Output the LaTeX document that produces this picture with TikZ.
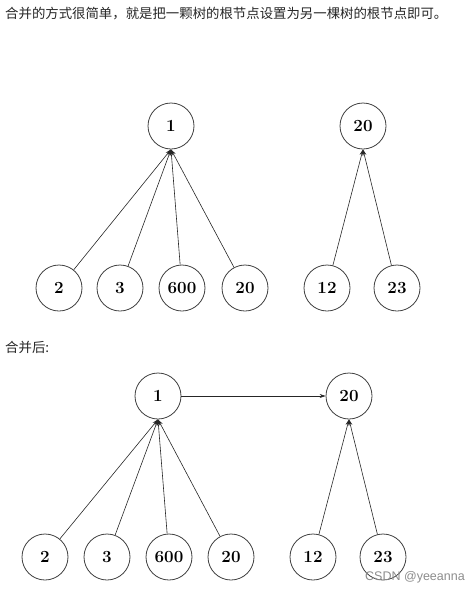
\documentclass[tikz,border=0pt]{standalone}
\usepackage{fontspec}
\newfontfamily\cjk{Noto Sans CJK SC}
\newfontfamily\wm{Liberation Sans}
\usetikzlibrary{arrows.meta}
\begin{document}
\begin{tikzpicture}[x=1pt,y=-1pt,
  tnode/.style={circle,draw=black!75,line width=0.8pt,minimum size=46pt,inner sep=0pt,font=\fontsize{17}{20}\selectfont\bfseries},
  edge/.style={draw=black!85,line width=0.6pt,-{Stealth[length=6pt,width=4pt]}},
  captext/.style={anchor=west,inner sep=0pt,font=\cjk\fontsize{13.4}{15}\selectfont,text=black!85}]
\useasboundingbox (0,0) rectangle (474,592);
\node[captext] (t1) at (5,14) {合并的方式很简单，就是把一颗树的根节点设置为另一棵树的根节点即可。};
\node[captext] (t2) at (5,347) {合并后:};
% top trees
\node[tnode] (a1) at (171,126) {1};
\node[tnode] (a2) at (59,288) {2};
\node[tnode] (a3) at (120,288) {3};
\node[tnode] (a600) at (182,288) {600};
\node[tnode] (a20) at (245,288) {20};
\node[tnode] (b20) at (363,126) {20};
\node[tnode] (b12) at (327,288) {12};
\node[tnode] (b23) at (397,288) {23};
\foreach \c in {a2,a3,a600,a20} \draw[edge] (\c) -- (a1.south);
\foreach \c in {b12,b23} \draw[edge] (\c) -- (b20.south);
% bottom
\node[tnode] (c1) at (158,396) {1};
\node[tnode] (c2) at (45,557) {2};
\node[tnode] (c3) at (107,557) {3};
\node[tnode] (c600) at (169,557) {600};
\node[tnode] (c20) at (231,557) {20};
\node[tnode] (d20) at (349,396) {20};
\node[tnode] (d12) at (313,557) {12};
\node[tnode] (d23) at (383,557) {23};
\foreach \c in {c2,c3,c600,c20} \draw[edge] (\c) -- (c1.south);
\foreach \c in {d12,d23} \draw[edge] (\c) -- (d20.south);
\draw[edge] (c1) -- (d20);
\node[anchor=west,inner sep=0pt,font=\wm\fontsize{12.5}{14}\selectfont,text=black!45] (wmk) at (365,577) {CSDN @yeeanna};
\end{tikzpicture}
\end{document}
